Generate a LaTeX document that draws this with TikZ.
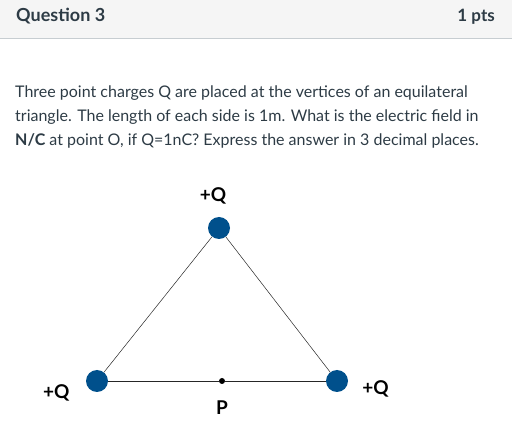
\documentclass[tikz,border=0pt]{standalone}
\usepackage{fontspec}
\setmainfont{Lato}
\usetikzlibrary{positioning}
\definecolor{qblue}{RGB}{0,80,140}
\definecolor{qtext}{RGB}{45,59,69}
\definecolor{qhead}{RGB}{245,245,245}
\definecolor{qrule}{RGB}{199,205,209}
\tikzset{
  charge/.style={circle, fill=qblue, inner sep=0pt, minimum size=22pt},
  pointdot/.style={circle, fill=black, inner sep=0pt, minimum size=6pt},
  qlabel/.style={font=\bfseries\fontsize{19}{22}\selectfont, text=black, inner sep=0pt},
  qline/.style={anchor=base west, inner sep=0pt, text=qtext, font=\fontsize{16}{19}\selectfont},
  side/.style={draw=black!85, line width=0.5pt}
}
\begin{document}
\begin{tikzpicture}[x=1pt,y=-1pt]
  \useasboundingbox (0,0) rectangle (512,430);
  % header bar
  \fill[qhead] (0,0) rectangle (512,39);
  \draw[qrule, line width=1pt] (0,39) -- (512,39);
  \node[anchor=base west, inner sep=0pt, text=qtext, font=\bfseries\fontsize{18}{21}\selectfont] (title) at (16,22) {Question 3};
  \node[anchor=base east, inner sep=0pt, text=qtext, font=\bfseries\fontsize{17}{20}\selectfont] (pts) at (495,22) {1 pts};
  % question text
  \node[qline] (l1) at (15,98) {Three point charges Q are placed at the vertices of an equilateral};
  \node[qline] (l2) at (15,122) {triangle. The length of each side is 1m. What is the electric field in};
  \node[qline] (l3) at (15,146) {\textbf{N/C} at point O, if Q=1nC? Express the answer in 3 decimal places.};
  % the triangle
  \node[charge] (top) at (219,228) {};
  \node[charge] (left) at (97,381) {};
  \node[charge] (right) at (337,381) {};
  \node[pointdot] (p) at (222,381) {};
  \draw[side] (left) -- (top) -- (right);
  \draw[side, line width=0.8pt] (left) -- (p) -- (right);
  \node[qlabel, above=12pt of top, xshift=-6pt] (qtop) {+Q};
  \node[qlabel, right=14pt of right, yshift=-8pt] (qright) {+Q};
  \node[qlabel, left=16pt of left, yshift=-12pt] (qleft) {+Q};
  \node[qlabel, below=16pt of p] (plabel) {P};
\end{tikzpicture}
\end{document}
